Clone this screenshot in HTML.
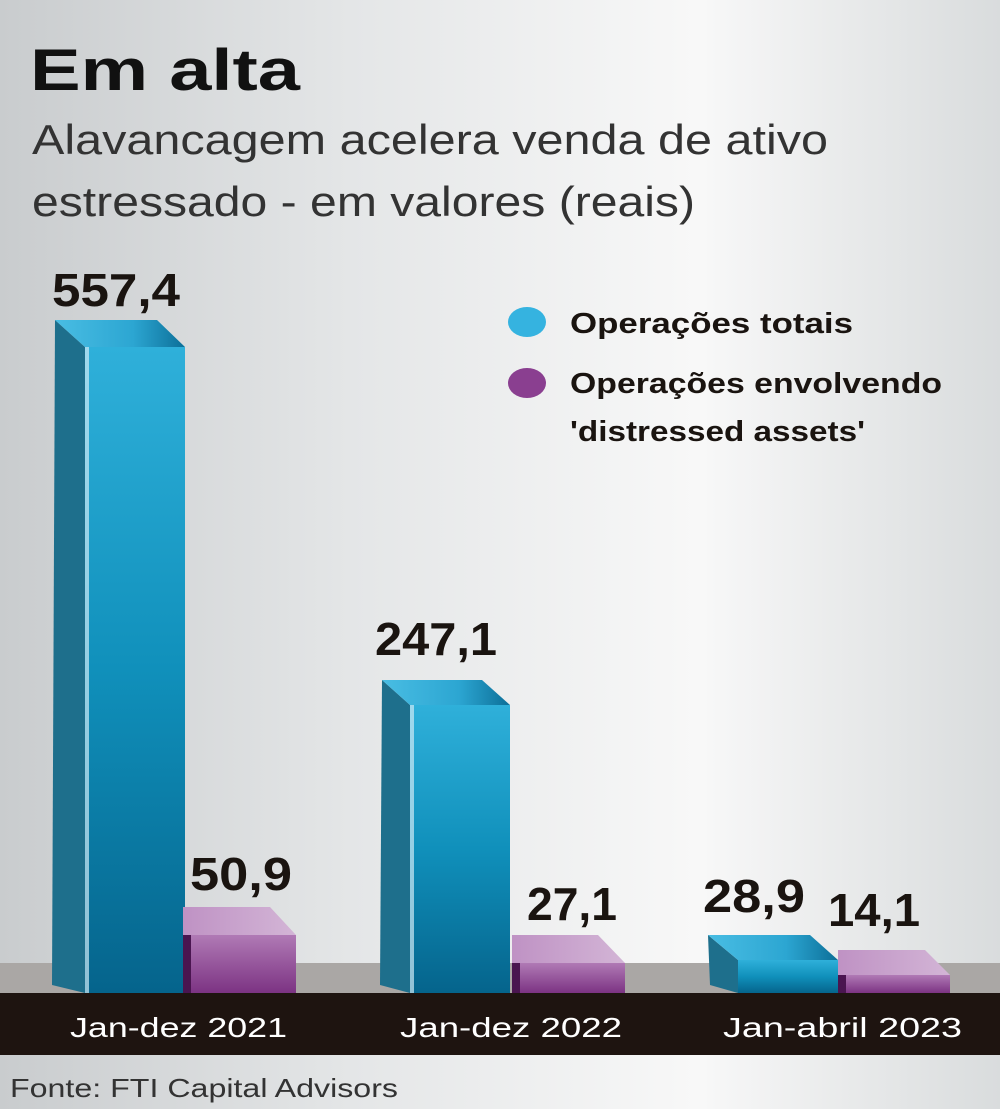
<!DOCTYPE html>
<html><head><meta charset="utf-8"><style>
body{margin:0;width:1000px;height:1109px;overflow:hidden;font-family:"Liberation Sans",sans-serif;
background:linear-gradient(90deg,#c9ccce 0%,#e4e6e7 35%,#f8f8f8 70%,#d9dcdd 100%);}
</style></head><body>
<svg width="1000" height="1109" xmlns="http://www.w3.org/2000/svg" style="position:absolute;left:0;top:0">
<defs>
<linearGradient id="bf" x1="0" y1="0" x2="0" y2="1"><stop offset="0" stop-color="#2fb0da"/><stop offset="0.5" stop-color="#1090bb"/><stop offset="1" stop-color="#05648c"/></linearGradient>
<linearGradient id="bt" x1="0" y1="0" x2="1" y2="0"><stop offset="0" stop-color="#49bde3"/><stop offset="0.6" stop-color="#2ca6d2"/><stop offset="1" stop-color="#0c6f98"/></linearGradient>
<linearGradient id="pf" x1="0" y1="0" x2="0" y2="1"><stop offset="0" stop-color="#b07ab5"/><stop offset="1" stop-color="#7c3383"/></linearGradient>
<linearGradient id="pt" x1="0" y1="0" x2="1" y2="0"><stop offset="0" stop-color="#bf92c4"/><stop offset="1" stop-color="#d3b5d6"/></linearGradient>
</defs>
<text x="30" y="90" font-size="58" font-weight="bold" fill="#111" textLength="270" lengthAdjust="spacingAndGlyphs">Em alta</text>
<text x="32" y="154" font-size="42" fill="#333" textLength="796" lengthAdjust="spacingAndGlyphs">Alavancagem acelera venda de ativo</text>
<text x="32" y="216" font-size="42" fill="#333" textLength="663" lengthAdjust="spacingAndGlyphs">estressado - em valores (reais)</text>
<rect x="0" y="963" width="1000" height="30" fill="#aaa7a5"/>
<rect x="0" y="993" width="1000" height="62" fill="#1e1410"/>
<g font-size="28" fill="#fff">
<text x="70" y="1037" textLength="217" lengthAdjust="spacingAndGlyphs">Jan-dez 2021</text><text x="400" y="1037" textLength="222" lengthAdjust="spacingAndGlyphs">Jan-dez 2022</text><text x="723" y="1037" textLength="239" lengthAdjust="spacingAndGlyphs">Jan-abril 2023</text></g>
<text x="10" y="1097" font-size="26" fill="#333" textLength="388" lengthAdjust="spacingAndGlyphs">Fonte: FTI Capital Advisors</text>
<polygon points="55,320 85,347 85,993 52,985" fill="#1e6f8c"/>
<polygon points="55,320 157,320 185,347 85,347" fill="url(#bt)"/>
<rect x="85" y="347" width="100" height="646" fill="url(#bf)"/>
<rect x="85" y="347" width="4" height="646" fill="#cfeaf5" opacity="0.7"/>
<polygon points="183,907 270,907 296,935 183,935" fill="url(#pt)"/>
<rect x="183" y="935" width="113" height="58" fill="url(#pf)"/>
<rect x="183" y="935" width="8" height="58" fill="#4a1550"/>
<polygon points="382,680 410,705 410,993 380,985" fill="#1e6f8c"/>
<polygon points="382,680 482,680 510,705 410,705" fill="url(#bt)"/>
<rect x="410" y="705" width="100" height="288" fill="url(#bf)"/>
<rect x="410" y="705" width="4" height="288" fill="#cfeaf5" opacity="0.7"/>
<polygon points="512,935 598,935 625,963 512,963" fill="url(#pt)"/>
<rect x="512" y="963" width="113" height="30" fill="url(#pf)"/>
<rect x="512" y="963" width="8" height="30" fill="#4a1550"/>
<polygon points="708,935 738,960 738,993 710,985" fill="#1e6f8c"/>
<polygon points="708,935 810,935 838,960 738,960" fill="url(#bt)"/>
<rect x="738" y="960" width="100" height="33" fill="url(#bf)"/>
<polygon points="838,950 925,950 950,975 838,975" fill="url(#pt)"/>
<rect x="838" y="975" width="112" height="18" fill="url(#pf)"/>
<rect x="838" y="975" width="8" height="18" fill="#4a1550"/>
<g font-size="46" font-weight="bold" fill="#1a1410" lengthAdjust="spacingAndGlyphs">
<text x="52" y="306" textLength="128" lengthAdjust="spacingAndGlyphs">557,4</text>
<text x="375" y="655" textLength="122" lengthAdjust="spacingAndGlyphs">247,1</text>
<text x="190" y="890" textLength="102" lengthAdjust="spacingAndGlyphs">50,9</text>
<text x="527" y="920" textLength="90" lengthAdjust="spacingAndGlyphs">27,1</text>
<text x="703" y="912" textLength="102" lengthAdjust="spacingAndGlyphs">28,9</text>
<text x="828" y="926" textLength="92" lengthAdjust="spacingAndGlyphs">14,1</text></g>
<ellipse cx="527" cy="322" rx="19" ry="15" fill="#35b3e0"/>
<ellipse cx="527" cy="383" rx="19" ry="15" fill="#8a3f90"/>
<g font-size="29" font-weight="bold" fill="#1a1410">
<text x="570" y="333" textLength="283" lengthAdjust="spacingAndGlyphs">Operações totais</text>
<text x="570" y="393" textLength="372" lengthAdjust="spacingAndGlyphs">Operações envolvendo</text>
<text x="570" y="441" textLength="295" lengthAdjust="spacingAndGlyphs">'distressed assets'</text></g>
</svg>
</body></html>
